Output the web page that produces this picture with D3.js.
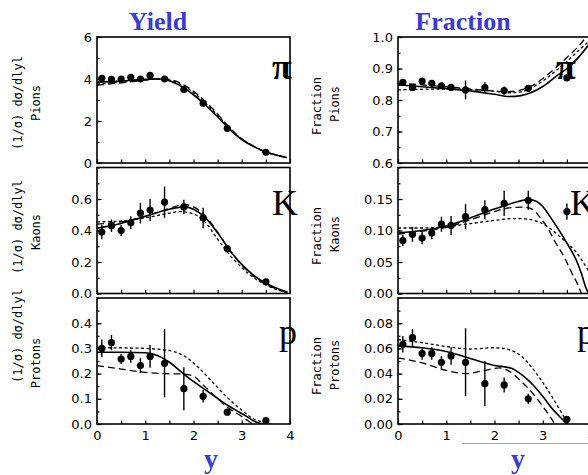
<!DOCTYPE html>
<html>
<head>
<meta charset="utf-8">
<script src="https://cdn.jsdelivr.net/npm/d3@7"></script>
<style>
  body { margin: 0; background: #fff; }
  svg { display: block; }
</style>
</head>
<body>
<svg id="chart"></svg>
<script>
// rapidity of the measured points (same bins in every panel)
const yBins = [0.1, 0.3, 0.5, 0.7, 0.9, 1.1, 1.4, 1.8, 2.2, 2.7, 3.5];

// ---- Yield, (1/sigma) dsigma/d|y| ----
const pionYield     = [4.03, 3.98, 4.0, 4.08, 4.0, 4.17, 4.0, 3.5, 2.84, 1.65, 0.51];
const pionYieldErr  = [0.15, 0.12, 0.12, 0.15, 0.12, 0.15, 0.12, 0.1, 0.1, 0.08, 0.06];
const kaonYield     = [0.39, 0.43, 0.40, 0.45, 0.51, 0.53, 0.58, 0.55, 0.48, 0.285, 0.074];
const kaonYieldErr  = [0.045, 0.04, 0.035, 0.04, 0.065, 0.07, 0.1, 0.045, 0.065, 0.015, 0.012];
const protYield     = [0.30, 0.323, 0.258, 0.268, 0.232, 0.268, 0.241, 0.14, 0.11, 0.047, 0.013];
const protYieldErr  = [0.035, 0.03, 0.02, 0.025, 0.03, 0.045, 0.135, 0.085, 0.025, 0.008, 0.005];

// ---- Fraction ----
const pionFrac      = [0.856, 0.840, 0.860, 0.853, 0.845, 0.840, 0.832, 0.839, 0.830, 0.837, 0.87];
const pionFracErr   = [0.008, 0.008, 0.008, 0.008, 0.008, 0.01, 0.03, 0.017, 0.013, 0.01, 0.01];
const kaonFrac      = [0.084, 0.094, 0.088, 0.096, 0.11, 0.108, 0.122, 0.133, 0.143, 0.148, 0.13];
const kaonFracErr   = [0.009, 0.012, 0.01, 0.01, 0.012, 0.015, 0.02, 0.015, 0.02, 0.015, 0.013];
const protFrac      = [0.0633, 0.0685, 0.056, 0.056, 0.049, 0.054, 0.049, 0.032, 0.031, 0.020, 0.0037];
const protFracErr   = [0.0065, 0.007, 0.005, 0.005, 0.005, 0.007, 0.027, 0.018, 0.006, 0.004, 0.001];

// model curves, [y, value]
const pionYieldSolid  = [[0,3.85],[0.5,3.9],[1.0,3.98],[1.3,4.0],[1.5,3.92],[1.75,3.65],[2.0,3.25],[2.25,2.75],[2.5,2.2],[2.75,1.6],[3.0,1.12],[3.25,0.78],[3.5,0.52],[3.75,0.36],[3.93,0.26]];
const pionYieldDash   = [[0,3.7],[0.5,3.82],[1.0,3.95],[1.3,4.02],[1.5,3.98],[1.75,3.78],[2.0,3.42],[2.25,2.92],[2.5,2.33],[2.75,1.68],[3.0,1.15],[3.25,0.8],[3.5,0.52],[3.75,0.36],[3.93,0.26]];
const pionYieldDot    = [[0,3.75],[0.5,3.85],[1.0,3.95],[1.3,4.0],[1.5,3.95],[1.75,3.72],[2.0,3.35],[2.25,2.85],[2.5,2.27],[2.75,1.65],[3.0,1.14],[3.25,0.79],[3.5,0.52],[3.75,0.36],[3.93,0.26]];

const kaonYieldSolid  = [[0,0.415],[0.5,0.445],[1.0,0.49],[1.5,0.535],[1.8,0.55],[2.0,0.535],[2.25,0.48],[2.5,0.385],[2.75,0.275],[3.0,0.185],[3.25,0.115],[3.5,0.065],[3.75,0.03],[3.95,0.01]];
const kaonYieldDash   = [[0,0.44],[0.5,0.455],[1.0,0.49],[1.5,0.54],[1.8,0.565],[2.0,0.55],[2.25,0.49],[2.5,0.39],[2.75,0.275],[3.0,0.18],[3.25,0.11],[3.5,0.06],[3.75,0.025],[3.95,0.005]];
const kaonYieldDot    = [[0,0.455],[0.5,0.46],[1.0,0.48],[1.5,0.51],[1.7,0.52],[2.0,0.505],[2.25,0.45],[2.5,0.345],[2.75,0.245],[3.0,0.165],[3.25,0.1],[3.5,0.055],[3.75,0.022],[3.95,0.005]];

const protYieldSolid  = [[0,0.285],[0.5,0.285],[1.0,0.283],[1.25,0.272],[1.5,0.245],[1.85,0.19],[2.1,0.155],[2.4,0.115],[2.6,0.088],[2.85,0.058],[3.1,0.03],[3.25,0.012],[3.4,0.002],[3.5,0]];
const protYieldDash   = [[0,0.232],[0.5,0.218],[1.0,0.205],[1.4,0.2],[1.8,0.198],[2.0,0.19],[2.2,0.155],[2.5,0.1],[2.75,0.06],[3.0,0.03],[3.15,0.01],[3.25,0]];
const protYieldDot    = [[0,0.303],[0.5,0.302],[1.0,0.3],[1.3,0.296],[1.6,0.287],[1.85,0.265],[2.1,0.225],[2.4,0.165],[2.7,0.105],[3.0,0.055],[3.25,0.02],[3.5,0.005],[3.6,0]];

const pionFracSolid   = [[0,0.848],[0.5,0.842],[1.0,0.836],[1.5,0.829],[2.0,0.818],[2.3,0.811],[2.55,0.814],[2.75,0.823],[3.0,0.843],[3.25,0.872],[3.5,0.9],[3.75,0.937],[4.0,0.985]];
const pionFracDash    = [[0,0.853],[0.5,0.848],[1.0,0.842],[1.5,0.835],[2.0,0.828],[2.25,0.826],[2.5,0.83],[2.75,0.843],[3.0,0.868],[3.25,0.9],[3.5,0.935],[3.75,0.972],[3.9,1.0]];
const pionFracDot     = [[0,0.832],[0.5,0.834],[1.0,0.835],[1.5,0.833],[2.0,0.828],[2.3,0.823],[2.55,0.826],[2.75,0.838],[3.0,0.86],[3.25,0.89],[3.5,0.922],[3.75,0.958],[4.0,0.992]];

const kaonFracSolid   = [[0,0.096],[0.5,0.1],[1.0,0.107],[1.5,0.12],[2.0,0.134],[2.4,0.144],[2.7,0.149],[2.85,0.147],[3.0,0.138],[3.15,0.122],[3.3,0.105],[3.5,0.08],[3.7,0.052],[3.8,0.032],[3.9,0.008],[3.95,0]];
const kaonFracDash    = [[0,0.094],[0.5,0.099],[1.0,0.105],[1.5,0.117],[2.0,0.13],[2.3,0.136],[2.6,0.137],[2.8,0.133],[2.95,0.12],[3.1,0.104],[3.25,0.083],[3.45,0.057],[3.6,0.033],[3.75,0.01],[3.8,0]];
const kaonFracDot     = [[0,0.104],[0.5,0.104],[1.0,0.106],[1.5,0.111],[2.0,0.116],[2.4,0.119],[2.7,0.118],[2.9,0.114],[3.1,0.106],[3.3,0.094],[3.5,0.08],[3.7,0.065],[3.85,0.048],[4.0,0.03]];

const protFracSolid   = [[0,0.062],[0.5,0.0605],[1.0,0.0575],[1.5,0.052],[2.0,0.0465],[2.35,0.0442],[2.6,0.038],[2.8,0.031],[3.0,0.022],[3.2,0.012],[3.4,0.004],[3.5,0]];
const protFracDash    = [[0,0.0525],[0.5,0.0485],[1.0,0.0425],[1.4,0.04],[1.8,0.0425],[2.1,0.0445],[2.3,0.042],[2.55,0.034],[2.8,0.024],[3.0,0.014],[3.15,0.006],[3.25,0]];
const protFracDot     = [[0,0.067],[0.5,0.0645],[1.0,0.0615],[1.5,0.0595],[2.0,0.0605],[2.3,0.059],[2.55,0.054],[2.75,0.046],[3.0,0.033],[3.25,0.018],[3.45,0.005],[3.53,0]];

// tick values / labels
const xTickLabels = [0, 1, 2, 3, 4];
const pionYieldTicks = [0, 2, 4, 6];
const kaonYieldTicks = [0, 0.2, 0.4, 0.6];
const protYieldTicks = [0, 0.1, 0.2, 0.3, 0.4];
const pionFracTicks  = [0.6, 0.7, 0.8, 0.9, 1.0];
const kaonFracTicks  = [0, 0.05, 0.10, 0.15];
const protFracTicks  = [0, 0.02, 0.04, 0.06, 0.08];

const width = 588, height = 475;
const colX = [97, 398], rowY = [37, 167.5, 298];
const panelW = 193, panelH = 126;

const svg = d3.select("#chart")
    .attr("width", width)
    .attr("height", height)
    .style("background", "#fff");

const panels = [
  {col: 0, row: 0, domain: [0, 6],     ticks: pionYieldTicks, minor: 1,     fmt: d3.format("d"),   pts: pionYield, err: pionYieldErr, curves: [pionYieldSolid, pionYieldDash, pionYieldDot], name: "Pions",   title: "(1/σ) dσ/dlyl", tx: [18, 36], ty: [103, 103], sym: "π", sx: 272, sy: 79},
  {col: 0, row: 1, domain: [0, 0.8],   ticks: kaonYieldTicks, minor: 0.1,   fmt: d3.format(".1f"), pts: kaonYield, err: kaonYieldErr, curves: [kaonYieldSolid, kaonYieldDash, kaonYieldDot], name: "Kaons",   title: "(1/σ) dσ/dlyl", tx: [18, 36], ty: [227, 232], sym: "K", sx: 272, sy: 215},
  {col: 0, row: 2, domain: [0, 0.5],   ticks: protYieldTicks, minor: 0.05,  fmt: d3.format(".1f"), pts: protYield, err: protYieldErr, curves: [protYieldSolid, protYieldDash, protYieldDot], name: "Protons", title: "(1/σ) dσ/dlyl", tx: [18, 36], ty: [336, 363], sym: "p", sx: 279, sy: 344},
  {col: 1, row: 0, domain: [0.6, 1.0], ticks: pionFracTicks,  minor: 0.05,  fmt: d3.format(".1f"), pts: pionFrac,  err: pionFracErr,  curves: [pionFracSolid, pionFracDash, pionFracDot],    name: "Pions",   title: "Fraction", tx: [317, 335], ty: [106, 104], sym: "π", sx: 556, sy: 79},
  {col: 1, row: 1, domain: [0, 0.2],   ticks: kaonFracTicks,  minor: 0.025, fmt: d3.format(".2f"), pts: kaonFrac,  err: kaonFracErr,  curves: [kaonFracSolid, kaonFracDash, kaonFracDot],    name: "Kaons",   title: "Fraction", tx: [317, 335], ty: [236, 234], sym: "K", sx: 570, sy: 215},
  {col: 1, row: 2, domain: [0, 0.1],   ticks: protFracTicks,  minor: 0.01,  fmt: d3.format(".2f"), pts: protFrac,  err: protFracErr,  curves: [protFracSolid, protFracDash, protFracDot],    name: "Protons", title: "Fraction", tx: [317, 335], ty: [366, 365], sym: "p", sx: 577, sy: 344}
];

const dashes = [null, "7,4", "3,2.5"];

panels.forEach((p, i) => {
  const x0 = colX[p.col], y0 = rowY[p.row];
  const x = d3.scaleLinear().domain([0, 4]).range([x0, x0 + panelW]);
  const y = d3.scaleLinear().domain(p.domain).range([y0 + panelH, y0]);

  svg.append("clipPath").attr("id", "clip" + i)
    .append("rect").attr("x", x0).attr("y", y0).attr("width", panelW).attr("height", panelH);

  const g = svg.append("g");

  // minor ticks
  const minorVals = d3.range(p.domain[0], p.domain[1] + 1e-9, p.minor);
  g.append("g")
    .attr("transform", `translate(${x0},0)`)
    .call(d3.axisLeft(y).tickValues(minorVals).tickFormat("").tickSizeInner(-2.5).tickSizeOuter(0))
    .call(a => a.select(".domain").remove());

  // major ticks + labels
  g.append("g")
    .attr("transform", `translate(${x0},0)`)
    .call(d3.axisLeft(y).tickValues(p.ticks).tickFormat(p.fmt).tickSizeInner(-4.5).tickSizeOuter(0).tickPadding(5))
    .call(a => a.select(".domain").remove())
    .call(a => a.selectAll("text").attr("font-family", "DejaVu Sans").attr("font-size", 13).attr("fill", "#000"));

  // x ticks every 0.5, labels only on the bottom row
  g.append("g")
    .attr("transform", `translate(0,${y0 + panelH})`)
    .call(d3.axisBottom(x).tickValues(d3.range(0, 4.01, 0.5))
      .tickFormat(d => (p.row === 2 && xTickLabels.includes(d)) ? d : "")
      .tickSizeInner(-3.5).tickSizeOuter(0).tickPadding(7))
    .call(a => a.select(".domain").remove())
    .call(a => a.selectAll("text").attr("font-family", "DejaVu Sans").attr("font-size", 13).attr("fill", "#000"));

  g.selectAll(".tick line").attr("stroke", "#000").attr("stroke-width", 1.2);

  // model curves
  const line = d3.line().x(d => x(d[0])).y(d => y(d[1])).curve(d3.curveMonotoneX);
  const cg = g.append("g").attr("clip-path", `url(#clip${i})`);
  p.curves.forEach((c, k) => {
    cg.append("path")
      .datum(c)
      .attr("fill", "none")
      .attr("stroke", "#000")
      .attr("stroke-width", k === 0 ? 1.6 : 1.3)
      .attr("stroke-dasharray", dashes[k])
      .attr("d", line);
  });

  // data with error bars
  const pts = yBins.map((b, j) => ({b, v: p.pts[j], e: p.err[j]}));
  cg.selectAll("line.err").data(pts).join("line")
    .attr("class", "err")
    .attr("x1", d => x(d.b)).attr("x2", d => x(d.b))
    .attr("y1", d => y(d.v - d.e)).attr("y2", d => y(d.v + d.e))
    .attr("stroke", "#000").attr("stroke-width", 1.4);
  cg.selectAll("circle").data(pts).join("circle")
    .attr("cx", d => x(d.b)).attr("cy", d => y(d.v))
    .attr("r", 3.6).attr("fill", "#000");

  // frame
  g.append("rect")
    .attr("x", x0).attr("y", y0).attr("width", panelW).attr("height", panelH)
    .attr("fill", "none").attr("stroke", "#000").attr("stroke-width", 1.6);

  // axis titles
  [p.title, p.name].forEach((t, k) => {
    svg.append("text")
      .attr("transform", `translate(${p.tx[k]},${p.ty[k]}) rotate(-90)`)
      .attr("text-anchor", "middle")
      .attr("dy", "0.35em")
      .attr("font-family", "DejaVu Sans Mono")
      .attr("font-size", 12)
      .text(t);
  });

  // particle symbol
  svg.append("text")
    .attr("x", p.sx).attr("y", p.sy)
    .attr("font-family", "Liberation Serif")
    .attr("font-weight", p.sym === "π" ? "bold" : "normal")
    .attr("font-size", 36)
    .text(p.sym);
});

// column headings and x titles
const blue = "#3b3bd0";
[["Yield", 158], ["Fraction", 463]].forEach(([t, cx]) => {
  svg.append("text").attr("x", cx).attr("y", 30).attr("text-anchor", "middle")
    .attr("font-family", "Liberation Serif").attr("font-weight", "bold")
    .attr("font-size", 26).attr("fill", blue).text(t);
});
[211, 518].forEach(cx => {
  svg.append("text").attr("x", cx).attr("y", 468).attr("text-anchor", "middle")
    .attr("font-family", "Liberation Serif").attr("font-weight", "bold")
    .attr("font-size", 28).attr("fill", blue).text("y");
});

// faint rule under the right x axis
svg.append("line").attr("x1", 462).attr("x2", 588).attr("y1", 443.5).attr("y2", 443.5)
  .attr("stroke", "#aaa").attr("stroke-width", 1);
</script>
</body>
</html>
